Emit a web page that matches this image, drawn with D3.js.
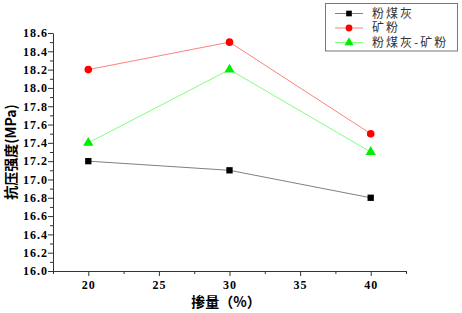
<!DOCTYPE html>
<html>
<head>
<meta charset="utf-8">
<script src="https://cdn.jsdelivr.net/npm/d3@7"></script>
<style>
  body { margin: 0; background: #fff; }
  .tick text { font-family: "Liberation Serif", "DejaVu Serif", serif; font-weight: bold; font-size: 12px; letter-spacing: 1px; }
</style>
</head>
<body>
<script>
const dosage = [20, 30, 40];
const seriesNames = ['粉煤灰', '矿粉', '粉煤灰-矿粉'];
const flyAsh = [17.2, 17.1, 16.8];
const slag = [18.2, 18.5, 17.5];
const mixed = [17.4, 18.2, 17.3];
const xTicks = [20, 25, 30, 35, 40];
const yTicks = d3.range(16.0, 18.61, 0.2);

const width = 462;
const height = 313;
const margins = { top: 33, bottom: 42, left: 53, right: 56 };

const xScale = d3.scaleLinear([17.5, 42.5], [margins.left, width - margins.right]);
const yScale = d3.scaleLinear([16.0, 18.6], [height - margins.bottom, margins.top]);

const series = [
  { name: seriesNames[0], values: flyAsh, line: '#808080', color: '#000', symbol: d3.symbolSquare, size: 40 },
  { name: seriesNames[1], values: slag, line: '#ff8080', color: '#ff0000', symbol: d3.symbolCircle, size: 45 },
  { name: seriesNames[2], values: mixed, line: '#80ff80', color: '#00ee00', symbol: d3.symbolTriangle, size: 45 },
];

const svg = d3.create('svg')
  .attr('width', width)
  .attr('height', height);

// minor ticks
svg.append('g')
  .attr('transform', `translate(${margins.left}, 0)`)
  .call(d3.axisLeft(yScale).tickValues(d3.range(16.1, 18.6, 0.2)).tickSize(3).tickFormat(''))
  .call(g => g.select('.domain').remove());
svg.append('g')
  .attr('transform', `translate(0, ${height - margins.bottom})`)
  .call(d3.axisBottom(xScale).tickValues([17.5, 22.5, 27.5, 32.5, 37.5, 42.5]).tickSize(3).tickFormat(''))
  .call(g => g.select('.domain').remove());

// y-axis
svg.append('g')
  .attr('transform', `translate(${margins.left}, 0)`)
  .call(d3.axisLeft(yScale).tickValues(yTicks).tickSize(5).tickSizeOuter(0).tickFormat(d3.format('.1f')))
  .call(g => g.selectAll('.tick text').attr('x', -5));

// x-axis
svg.append('g')
  .attr('transform', `translate(0, ${height - margins.bottom})`)
  .call(d3.axisBottom(xScale).tickValues(xTicks).tickSize(5).tickSizeOuter(0))
  .call(g => g.selectAll('.tick text').attr('y', 9));

svg.selectAll('.domain, .tick line').attr('stroke', '#333');

// axis titles
svg.append('text')
  .attr('transform', `translate(11, ${(margins.top + height - margins.bottom) / 2}) rotate(-90)`)
  .attr('text-anchor', 'middle')
  .attr('dy', '0.36em')
  .attr('font-family', 'Noto Sans CJK SC')
  .attr('font-weight', 'bold')
  .attr('font-size', 14)
  .text('抗压强度(MPa)');

svg.append('text')
  .attr('x', 226)
  .attr('y', 302)
  .attr('dy', '0.36em')
  .attr('text-anchor', 'middle')
  .attr('font-family', 'Noto Sans CJK SC')
  .attr('font-weight', 'bold')
  .attr('font-size', 14)
  .text('掺量（%）');

const lineGen = d3.line()
  .x((d, i) => xScale(dosage[i]))
  .y(d => yScale(d));

const plot = svg.append('g');
series.forEach(s => {
  plot.append('path')
    .attr('d', lineGen(s.values))
    .attr('fill', 'none')
    .attr('stroke', s.line)
    .attr('stroke-width', 1);
  plot.selectAll(null)
    .data(s.values)
    .join('path')
    .attr('transform', (d, i) => `translate(${xScale(dosage[i])}, ${yScale(d)})`)
    .attr('d', d3.symbol(s.symbol, s.size))
    .attr('fill', s.color);
});

// legend
const legend = svg.append('g');
legend.append('rect')
  .attr('x', 325.5).attr('y', 3.5)
  .attr('width', 132).attr('height', 47.5)
  .attr('fill', '#fff')
  .attr('stroke', '#777');
series.forEach((s, i) => {
  const y = 13.5 + i * 14.5;
  legend.append('line')
    .attr('x1', 335).attr('x2', 363)
    .attr('y1', y).attr('y2', y)
    .attr('stroke', s.line);
  legend.append('path')
    .attr('transform', `translate(349, ${y})`)
    .attr('d', d3.symbol(s.symbol, s.size * 0.8))
    .attr('fill', s.color);
  legend.append('text')
    .attr('x', 372).attr('y', y)
    .attr('dy', '0.36em')
    .attr('font-family', 'Noto Sans CJK SC')
    .attr('font-size', 12)
    .attr('letter-spacing', 2)
    .attr('fill', '#333')
    .text(s.name);
});

document.body.appendChild(svg.node());
</script>
</body>
</html>
